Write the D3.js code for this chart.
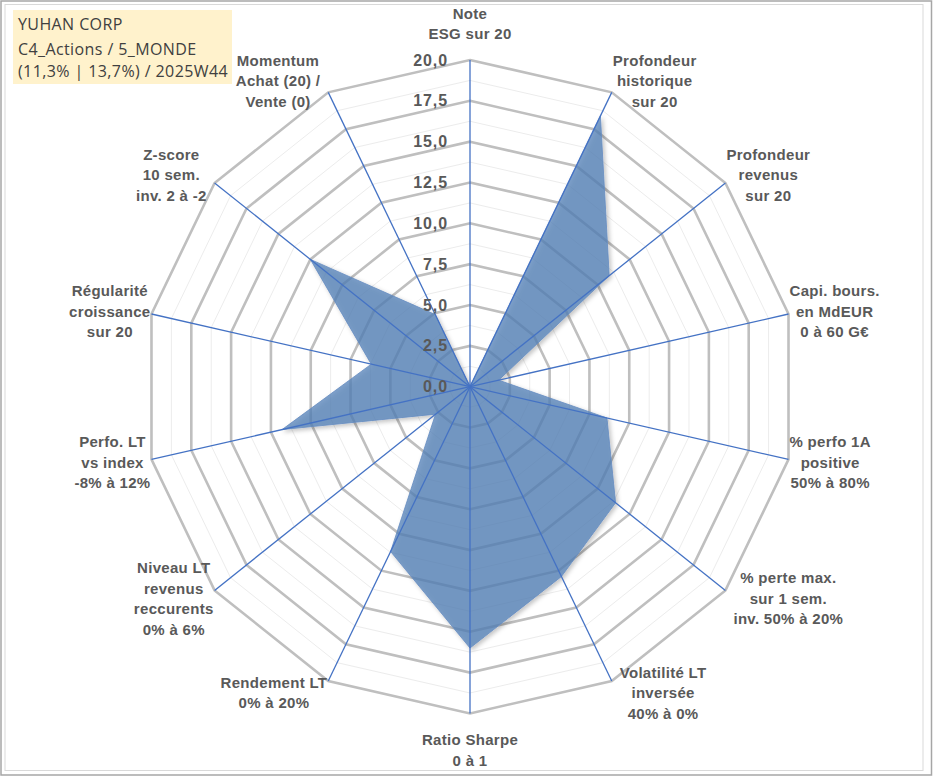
<!DOCTYPE html>
<html>
<head>
<meta charset="utf-8">
<script src="https://cdn.jsdelivr.net/npm/d3@7/dist/d3.min.js"></script>
<style>
  html, body { margin: 0; padding: 0; background: #fff; }
  svg { display: block; }
</style>
</head>
<body>
<svg id="chart" width="933" height="776"></svg>
<script>
// ---- data ----
const categories = [
  "Note\nESG sur 20",
  "Profondeur\nhistorique\nsur 20",
  "Profondeur\nrevenus\nsur 20",
  "Capi. bours.\nen MdEUR\n0 à 60 G€",
  "% perfo 1A\npositive\n50% à 80%",
  "% perte max.\nsur 1 sem.\ninv. 50% à 20%",
  "Volatilité LT\ninversée\n40% à 0%",
  "Ratio Sharpe\n0 à 1",
  "Rendement LT\n0% à 20%",
  "Niveau LT\nrevenus\nreccurents\n0% à 6%",
  "Perfo. LT\nvs index\n-8% à 12%",
  "Régularité\ncroissance\nsur 20",
  "Z-score\n10 sem.\ninv. 2 à -2",
  "Momentum\nAchat (20) /\nVente (0)"
];
const values = [0, 18.4, 10.9, 1.8, 8.6, 11.4, 12.9, 16.0, 11.2, 2.7, 11.8, 6.2, 12.5, 4.9];
const majorTicks = [0, 2.5, 5, 7.5, 10, 12.5, 15, 17.5, 20];
const minorTicks = [1.25, 3.75, 6.25, 8.75, 11.25, 13.75, 16.25, 18.75];
const titleLines = ["YUHAN CORP", "C4_Actions / 5_MONDE", "(11,3% | 13,7%) / 2025W44"];

// ---- layout ----
const W = 933, H = 776;
const cx = 470, cy = 386.7, R = 326.7;
const svg = d3.select("#chart");

const locale = d3.formatLocale({decimal: ",", thousands: " ", grouping: [3], currency: ["", "€"]});
const fmt = locale.format(".1f");

const r = d3.scaleLinear().domain([0, 20]).range([0, R]);
const n = categories.length;
const angle = d3.scaleLinear().domain([0, n]).range([0, 2 * Math.PI]);

// frames
svg.append("rect").attr("x", 1).attr("y", 1).attr("width", W - 2.5).attr("height", H - 2)
  .attr("fill", "none").attr("stroke", "#a6a6a6").attr("stroke-width", 1.5);
svg.append("rect").attr("x", 5).attr("y", 4.5).attr("width", 918).attr("height", 766)
  .attr("fill", "none").attr("stroke", "#d9d9d9").attr("stroke-width", 1);

const g = svg.append("g").attr("transform", `translate(${cx},${cy})`);

// defs
const defs = svg.append("defs");
const f = defs.append("filter").attr("id", "shadow").attr("x", "-20%").attr("y", "-20%").attr("width", "140%").attr("height", "140%");
f.append("feDropShadow").attr("dx", 2).attr("dy", 2).attr("stdDeviation", 2)
  .attr("flood-color", "#000").attr("flood-opacity", 0.3);

const ringLine = d3.lineRadial().angle((d, i) => angle(i)).radius(d => r(d)).curve(d3.curveLinearClosed);

// minor rings
g.selectAll(".minor").data(minorTicks).join("path")
  .attr("d", t => ringLine(d3.range(n).map(() => t)))
  .attr("fill", "none").attr("stroke", "#ececec").attr("stroke-width", 1);

// major rings
g.selectAll(".major").data(majorTicks.filter(t => t > 0)).join("path")
  .attr("d", t => ringLine(d3.range(n).map(() => t)))
  .attr("fill", "none").attr("stroke", "#bfbfbf").attr("stroke-width", 2.6)
  .attr("stroke-linejoin", "miter");

// data polygon
g.append("path")
  .attr("d", ringLine(values))
  .attr("fill", "rgb(82,128,184)").attr("fill-opacity", 0.74)
  .attr("stroke", "rgb(100,140,192)").attr("stroke-width", 0.8)
  .attr("filter", "url(#shadow)");

// spokes
g.selectAll(".spoke").data(categories).join("line")
  .attr("x1", 0).attr("y1", 0)
  .attr("x2", (d, i) => r(20) * Math.sin(angle(i)))
  .attr("y2", (d, i) => -r(20) * Math.cos(angle(i)))
  .attr("stroke", "#4472c4").attr("stroke-width", 1.3);

// tick labels
g.selectAll(".tick").data(majorTicks).join("text")
  .attr("x", -22).attr("y", t => -r(t))
  .attr("text-anchor", "end").attr("dominant-baseline", "central")
  .attr("font-family", "Liberation Sans, Arial, sans-serif").attr("font-weight", "bold")
  .attr("font-size", 16).attr("letter-spacing", "0.9px")
  .attr("fill", "#595959")
  .text(t => fmt(t));

// axis labels
const lineH = 20.5;
categories.forEach((lab, i) => {
  const a = angle(i);
  const s = Math.sin(a), c = Math.cos(a);
  const ex = r(20) * s, ey = -r(20) * c;
  const lines = lab.split("\n");
  const blockH = lines.length * lineH;
  const t = g.append("text")
    .attr("font-family", "Liberation Sans, Arial, sans-serif").attr("font-weight", "bold")
    .attr("font-size", 15).attr("letter-spacing", "0.3px")
    .attr("fill", "#595959").attr("text-anchor", "middle");
  const tsp = t.selectAll("tspan").data(lines).join("tspan").text(d => d)
    .attr("x", 0).attr("y", (d, k) => k * lineH);
  const w = d3.max(tsp.nodes(), nd => nd.getComputedTextLength());
  let mx, my;
  if (Math.abs(s) < 1e-6) {
    mx = 0;
    my = ey + (c > 0 ? -(blockH / 2 + 16) : (blockH / 2 + 16));
  } else {
    const gap = (s * c < -0.3) ? 8 : 1;
    mx = ex + Math.sign(s) * (w / 2 + gap);
    my = ey - c * 13;
  }
  tsp.attr("x", mx)
    .attr("y", (d, k) => my - blockH / 2 + lineH * (k + 0.5))
    .attr("dominant-baseline", "central");
});

// title box
svg.append("rect").attr("x", 13).attr("y", 10).attr("width", 219).attr("height", 74).attr("fill", "#fff2cc");
const ty = [29.5, 54.5, 76.5];
svg.selectAll(".title").data(titleLines).join("text")
  .attr("x", 18).attr("y", (d, i) => ty[i])
  .attr("font-family", "Open Sans, sans-serif").attr("font-size", 16)
  .attr("letter-spacing", "0.4px")
  .attr("fill", "#404040")
  .text(d => d);
</script>
</body>
</html>
